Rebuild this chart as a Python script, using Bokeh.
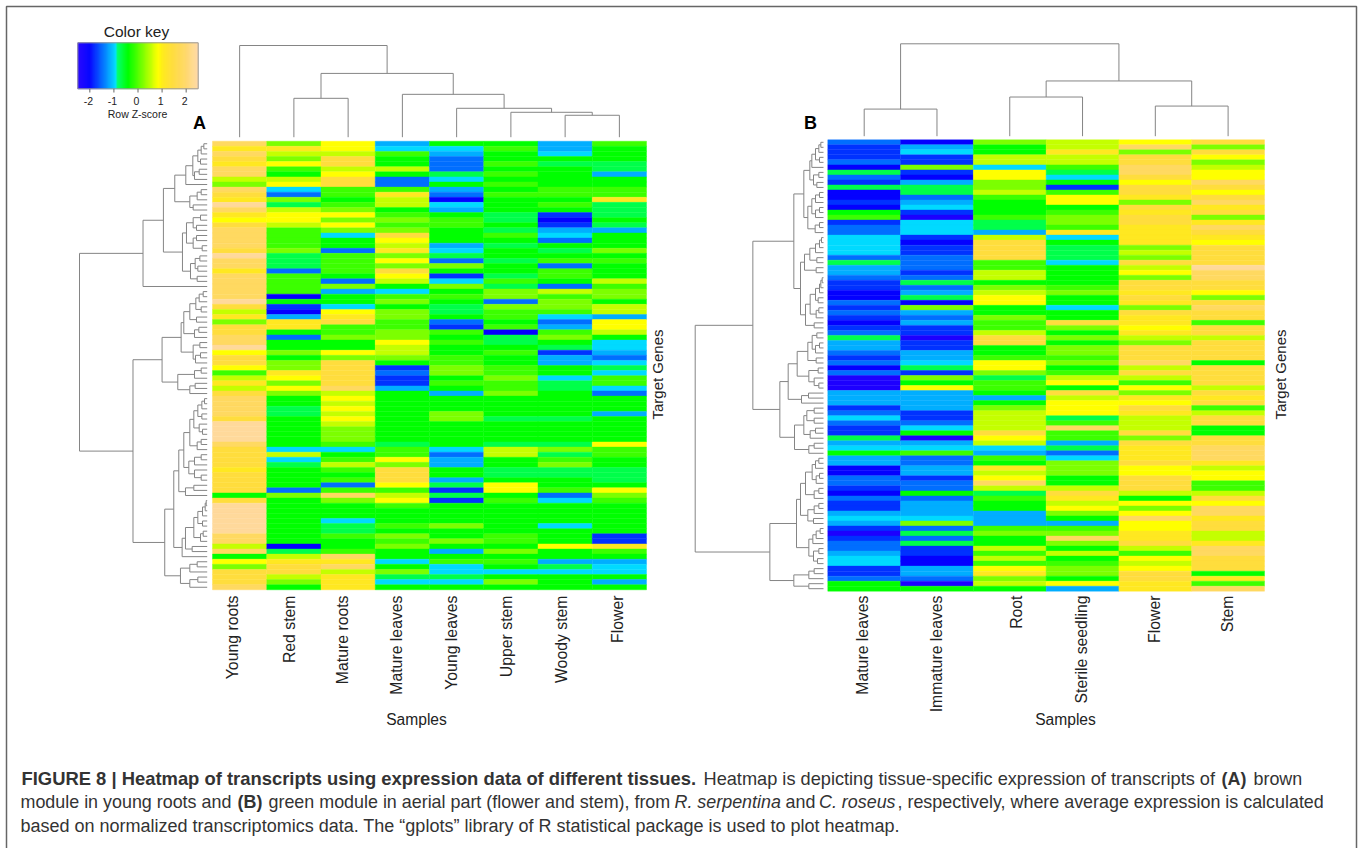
import numpy as np
from bokeh.core.properties import value
from bokeh.embed import file_html
from bokeh.models import ColumnDataSource, LinearColorMapper, Range1d
from bokeh.plotting import figure
from bokeh.resources import INLINE
from bokeh.transform import transform

# ---- Z-score levels, one letter per row ----
LEVELS = {"a": -2.4, "b": -2.05, "c": -1.75, "d": -1.45, "e": -1.15, "f": -0.92, "g": -0.7, "h": -0.4,
          "i": -0.1, "j": 0.2, "k": 0.55, "l": 0.85, "m": 1.1, "n": 1.45, "o": 1.9, "p": 2.4}

A_SAMPLES = ["Young roots", "Red stem", "Mature roots", "Mature leaves", "Young leaves", "Upper stem", "Woody stem", "Flower"]
A_YOUNG_ROOTS = "omonmookjo" "nmpomlnooo" "onpoomoooo" "opnkmjnnoo" "plnnlikmkn" "oooonppppo" "nnnnmnnnnh" "nppppppook" "ohljnnno"
A_RED_STEM = "jmkjlihklf" "djgkllkiii" "ijgggdiiii" "bhcbemmhdh" "hjhjjmljlj" "hhgghhhhhh" "fkfghhhhdj" "hhhhhhhhhb" "gkmnnkjh"
A_MATURE_ROOTS = "llknnklnni" "ihijljljfh" "hdiiiihdje" "hhflmniijh" "hljnnnnnok" "lklklkjjji" "fhikihidio" "jhhhfggihh" "iomokmmm"
A_MATURE_LEAVES = "efihhkhddi" "mkkhijijnl" "kmjljnlkhf" "ijhjjiijjl" "kkjhcdcceh" "hhhhhhhhhg" "iiljnnnlik" "lihhhihjij" "hhfhjgfh"
A_YOUNG_LEAVES = "hfedddgfhe" "dbfehiihhh" "efgdjhcfjh" "ihgghdcihi" "hhiijjhihe" "hhhjjhhhhh" "fdeehhegcg" "chhhhjhhjh" "ehiffgfh"
A_UPPER_STEM = "hihhihihih" "ihhhgghgih" "ghhghhgigj" "jdjiihibgg" "hihhiijiij" "hhhhghhhhg" "kkhhgghllh" "ihhhhhhiih" "jhihfhjh"
A_WOODY_STEM = "eefhghhhhi" "ihihcbcefd" "hghidiihdk" "ijjifdeijh" "gceehhfggh" "hhhhghhhhg" "jgijgghhid" "fhhhhfhhhl" "hhegfhhh"
A_FLOWER = "ihhhggehhi" "imggghgehh" "hjhihhhkij" "jhkkellkhf" "fedfgfiifd" "hhhehhhhhl" "iihhggghlj" "ihhhhhhccm" "iheffheh"
A_COLUMNS = [A_YOUNG_ROOTS, A_RED_STEM, A_MATURE_ROOTS, A_MATURE_LEAVES, A_YOUNG_LEAVES, A_UPPER_STEM, A_WOODY_STEM, A_FLOWER]

B_SAMPLES = ["Mature leaves", "Immature leaves", "Root", "Sterile seedling", "Flower", "Stem"]
B_MATURE_LEAVES = "dcccdbgdcg" "bbcbhicddf" "fffdgeedcc" "bbdcdcbcdg" "eedcdbdaaa" "eeecdfdccg" "efheebbddc" "bdccefecac" "ddeffccdhh"
B_IMMATURE_LEAVES = "befccjcbeg" "gdefcafffc" "bccdddcdgd" "egbjedecca" "cceefgcjhl" "eeeeccdfha" "efiddeecdd" "hdeeefjdgd" "gccbbeedah"
B_ROOT = "jhhkkflljj" "kihhhiggek" "nnnniikkhj" "kllhhjiikn" "nhhilljgii" "hehjkkkknl" "kfeihmklok" "gihheeeijh" "hkikilmjkh"
B_SEEDLING = "kkmkkigfhc" "illhijjimf" "hgggfhhhhi" "jhhfhhnjhj" "hjjijhiklh" "nklllgioii" "egdfjjjhhk" "nmkljheijo" "jhkhijjhle"
B_FLOWER = "lojnnoonln" "nmjnmnnmmm" "mjkjnkljnn" "mnmjnmmlmk" "jnnnoknkil" "jmlnmkkknj" "nmmmnllnnn" "khljlollmm" "nkilklnnmm"
B_STEM = "njnljkllon" "lnomnjmonm" "lnnnnpoonn" "ljnonninnk" "nnnnhnnnnk" "nmniknnhhn" "nooomkllii" "knloomnnkk" "moonnnhmio"
B_COLUMNS = [B_MATURE_LEAVES, B_IMMATURE_LEAVES, B_ROOT, B_SEEDLING, B_FLOWER, B_STEM]

KEY_TICKS = [-2, -1, 0, 1, 2]

# ---- dendrograms: (height, first child, second child); 0 is a leaf ----
def T(h, a, b):
    return (h, a, b)

A_TOP = T(92, 0, T(64, T(39, 0, 0), T(43, 0, T(29, 0, T(25, 0, T(22, 0, 0))))))
B_TOP = T(92, T(27, 0, 0), T(55, T(39, 0, 0), T(30, 0, 0)))

_a0 = T(97, T(64, T(43, T(28, T(18, T(10, 0, 0), 0), T(20, 0, 0)), T(38, T(24, 0, 0), 0)), 0),
        T(52, T(30, T(18, 0, 0), 0), T(42, 0, 0)))
_a1 = T(74, T(62, T(42, T(20, 0, 0), T(32, 0, 0)), T(42, T(32, 0, 0), T(15, 0, 0))),
        T(50, T(36, T(22, 0, 0), T(28, 0, 0)), T(30, 0, 0)))
_a2 = T(192, T(131, _a0, _a1), 0)
_a3 = T(78, T(70, T(52, T(34, T(24, T(12, 0, 0), 0), T(18, 0, 0)), T(32, 0, 0)), T(38, T(25, 0, 0), 0)),
        T(42, T(22, 0, 0), T(35, T(20, 0, 0), 0)))
_a4 = T(88, T(38, T(18, 0, 0), 0), T(52, T(36, 0, 0), 0))
_a5 = T(52, T(40, T(28, T(16, T(8, 0, 0), 0), T(16, 0, 0)), T(24, 0, T(14, 0, 0))), T(30, T(18, 0, 0), 0))
_a6 = T(55, T(38, T(18, 0, 0), 0), T(38, 0, T(18, 0, 0)))
_a7 = T(85, T(70, _a5, _a6), T(65, T(40, 0, 0), 0))
_a8 = T(75, T(65, T(40, T(28, T(14, T(6, T(3, 0, 0), 0), 0), T(14, 0, 0)), T(20, T(12, 0, 0), 0)), T(45, 0, 0)), 0)
_a9 = T(80, T(52, T(30, 0, 0), 0), T(52, T(28, 0, 0), 0))
A_LEFT = T(382, _a2, T(222, T(135, _a3, _a4), T(127, T(100, _a7, _a8), _a9)))

_b0 = T(41, T(35, T(24, T(14, T(8, 0, 0), 0), T(12, 0, 0)), 0), T(30, T(14, 0, 0), T(20, 0, 0)))
_b1 = T(47, T(35, T(24, T(12, 0, 0), 0), T(24, T(12, 0, 0), 0)), T(25, T(12, 0, 0), 0))
_b2 = T(57, T(41, T(24, T(12, T(6, 0, 0), 0), 0), T(20, 0, 0)), T(22, 0, 0))
_b3 = T(54, T(40, T(24, T(12, T(8, T(4, 0, 0), 0), 0), T(16, 0, 0)), T(22, T(14, 0, 0), 0)), T(28, 0, 0))
_b4 = T(89, T(59, _b0, _b1), T(69, _b2, _b3))
_b5 = T(79, T(47, T(34, T(20, 0, 0), T(24, T(12, 0, 0), 0)), T(22, 0, 0)), T(44, T(16, 0, 0), T(28, 0, T(14, 0, 0))))
_b6 = T(106, _b5, T(66, T(45, 0, 0), 0))
_b7 = T(87, T(59, T(50, T(28, 0, 0), T(28, 0, 0)), T(40, T(24, 0, 0), 0)), T(44, T(28, 0, 0), 0))
_b8 = T(54, T(34, T(24, T(14, 0, 0), 0), T(22, T(12, 0, 0), 0)), T(28, T(14, 0, 0), 0))
_b9 = T(69, _b8, T(47, T(28, T(14, 0, 0), 0), T(30, 0, 0)))
_b10 = T(44, T(32, T(22, T(10, 0, 0), 0), 0), T(30, T(14, 0, 0), T(18, 0, 0)))
_b11 = T(89, T(44, T(28, 0, 0), 0), T(44, 0, 0))
B_LEFT = T(385, T(212, _b4, T(131, _b6, _b7)), T(161, T(81, _b9, _b10), _b11))

CAPTION = [
    [(21, 778, "FIGURE 8 | Heatmap of transcripts using expression data of different tissues.", "bold", "18.4px"),
     (703, 778, "Heatmap is depicting tissue-specific expression of transcripts of", "normal", "18.2px"),
     (1221, 778, "(A)", "bold", "17.9px"), (1253, 778, "brown", "normal", "17.9px")],
    [(20, 801.5, "module in young roots and", "normal", "17.9px"), (237, 801.5, "(B)", "bold", "17.9px"),
     (268, 801.5, "green module in aerial part (flower and stem), from", "normal", "17.9px"),
     (674, 801.5, "R. serpentina", "italic", "17.9px"), (785, 801.5, "and", "normal", "17.9px"),
     (818.5, 801.5, "C. roseus", "italic", "17.9px"),
     (897, 801.5, ", respectively, where average expression is calculated", "normal", "17.9px")],
    [(20, 825, "based on normalized transcriptomics data. The \u201cgplots\u201d library of R statistical package is used to plot heatmap.", "normal", "18px")],
]

# ---- page ----
W, H = 1358, 848
FONT = value("Liberation Sans")

anchors = [(-2.5, "#2400ff"), (-2.0, "#0000ff"), (-0.9, "#00e0ff"), (-0.85, "#00ff70"), (-0.4, "#00ff00"),
           (0.85, "#ffff00"), (1.1, "#ffe820"), (1.5, "#ffdc40"), (2.0, "#ffd868"), (2.5, "#ffd9a8")]
zs = np.linspace(-2.5, 2.5, 256)
_az = [a[0] for a in anchors]
_rgb = [[int(a[1][i:i + 2], 16) for a in anchors] for i in (1, 3, 5)]
PALETTE = ["#%02x%02x%02x" % tuple(int(round(np.interp(z, _az, c))) for c in _rgb) for z in zs]
mapper = LinearColorMapper(palette=PALETTE, low=-2.5, high=2.5)


def xr(v0, p0, v1, p1):
    k = (v1 - v0) / (p1 - p0)
    return Range1d(start=v0 - p0 * k, end=v0 + (W - p0) * k)


def yr(v0, p0, v1, p1):
    k = (v1 - v0) / (p1 - p0)
    return Range1d(start=v0 + (H - p0) * k, end=v0 - p0 * k)


p = figure(width=W, height=H, x_range=Range1d(0, W), y_range=Range1d(H, 0), x_axis_type=None, y_axis_type=None,
           toolbar_location=None, output_backend="svg", min_border=0, outline_line_color=None,
           background_fill_color="white")
p.grid.visible = False

p.extra_x_ranges = {
    "ah": xr(0, 212, 8, 646), "bh": xr(0, 827.3, 6, 1264),
    "ad": xr(0, 206.7, 382, 79), "bd": xr(0, 823, 385, 694.7),
    "key": xr(-2.5, 77.3, 2.5, 197.7),
}
p.extra_y_ranges = {
    "ah": yr(0, 140.7, 88, 589.3), "bh": yr(0, 139.3, 90, 590.7),
    "at": yr(0, 136.7, 92, 45), "bt": yr(0, 135.7, 92, 43.3),
}


def tree(node, counter, segs):
    """Returns (position, height); appends the segments of the merges."""
    if node == 0:
        counter[0] += 1
        return counter[0] - 0.5, 0
    h, a, b = node
    pa, ha = tree(a, counter, segs)
    pb, hb = tree(b, counter, segs)
    segs.append((pa, ha, pa, h))
    segs.append((pb, hb, pb, h))
    segs.append((pa, h, pb, h))
    return (pa + pb) / 2, h


def draw_tree(root, pos_is_x, xname, yname):
    segs = []
    tree(root, [0], segs)
    s = np.array(segs, dtype=float)
    if pos_is_x:
        x0, y0, x1, y1 = s[:, 0], s[:, 1], s[:, 2], s[:, 3]
    else:
        y0, x0, y1, x1 = s[:, 0], s[:, 1], s[:, 2], s[:, 3]
    p.segment(x0=x0, y0=y0, x1=x1, y1=y1, line_color="#858585", line_width=1, x_range_name=xname, y_range_name=yname)


def heat(columns, name):
    xs, ys, vs = [], [], []
    for c, col in enumerate(columns):
        for r, ch in enumerate(col):
            xs.append(c + 0.5)
            ys.append(r + 0.5)
            vs.append(LEVELS[ch])
    src = ColumnDataSource(dict(x=xs, y=ys, z=vs))
    p.rect(x="x", y="y", width=1, height=1, source=src, fill_color=transform("z", mapper),
           line_color=transform("z", mapper), line_width=0.4, x_range_name=name, y_range_name=name)


heat(A_COLUMNS, "ah")
heat(B_COLUMNS, "bh")
draw_tree(A_TOP, True, "ah", "at")
draw_tree(B_TOP, True, "bh", "bt")
draw_tree(A_LEFT, False, "ad", "ah")
draw_tree(B_LEFT, False, "bd", "bh")


def txt(x, y, s, size, style="normal", align="center", baseline="middle", angle=0, color="#222222"):
    p.text(x=[x], y=[y], text=[s], text_font=FONT, text_font_size=value(size), text_font_style=value(style),
           text_align=value(align), text_baseline=value(baseline), angle=angle, text_color=color)


# frame of the figure
p.line(x=[6, 6, 1356, 1356], y=[H, 6, 6, H], line_color="#666666", line_width=1.5)

# colour key
key_z = np.linspace(-2.5 + 5 / 240, 2.5 - 5 / 240, 120)
key_colors = [PALETTE[min(255, int((z + 2.5) / 5 * 256))] for z in key_z]
p.rect(x=key_z, y=65.3, width=5 / 120, height=46, fill_color=key_colors, line_color=key_colors, line_width=0.6,
       x_range_name="key")
p.rect(x=[0], y=[65.3], width=[5], height=[46], fill_color=None, line_color="#999999", line_width=1, x_range_name="key")
p.segment(x0=KEY_TICKS, x1=KEY_TICKS, y0=[88.3] * 5, y1=[92] * 5, line_color="#666666", line_width=1, x_range_name="key")
p.text(x=KEY_TICKS, y=[100] * 5, text=[str(t) for t in KEY_TICKS], text_font=FONT, text_font_size=value("10.5px"),
       text_align="center", text_baseline="middle", text_color="#222222", x_offset=-1.5, x_range_name="key")
txt(136, 31, "Color key", "15.5px")
txt(137, 113, "Row Z-score", "10.5px")

# panel letters
txt(199, 122, "A", "18px", "bold", color="#000000")
txt(810, 122, "B", "18px", "bold", color="#000000")

# sample labels
A_LABEL_X = [232, 289, 342, 396, 451, 506, 561, 617]
B_LABEL_X = [862, 936, 1016, 1081, 1154, 1227]
for x, s in zip(A_LABEL_X, A_SAMPLES):
    txt(x, 595, s, "15.8px", align="right", angle=np.pi / 2)
for x, s in zip(B_LABEL_X, B_SAMPLES):
    txt(x, 595, s, "15.8px", align="right", angle=np.pi / 2)

txt(416, 719, "Samples", "15.6px")
txt(1065, 719, "Samples", "15.6px")
txt(657, 374, "Target Genes", "15px", angle=np.pi / 2)
txt(1280, 374, "Target Genes", "15px", angle=np.pi / 2)

# caption
for line in CAPTION:
    for x, y, s, style, size in line:
        txt(x, y, s, size, style, align="left", color="#333333")

open("out.html", "w").write(file_html(p, INLINE))
